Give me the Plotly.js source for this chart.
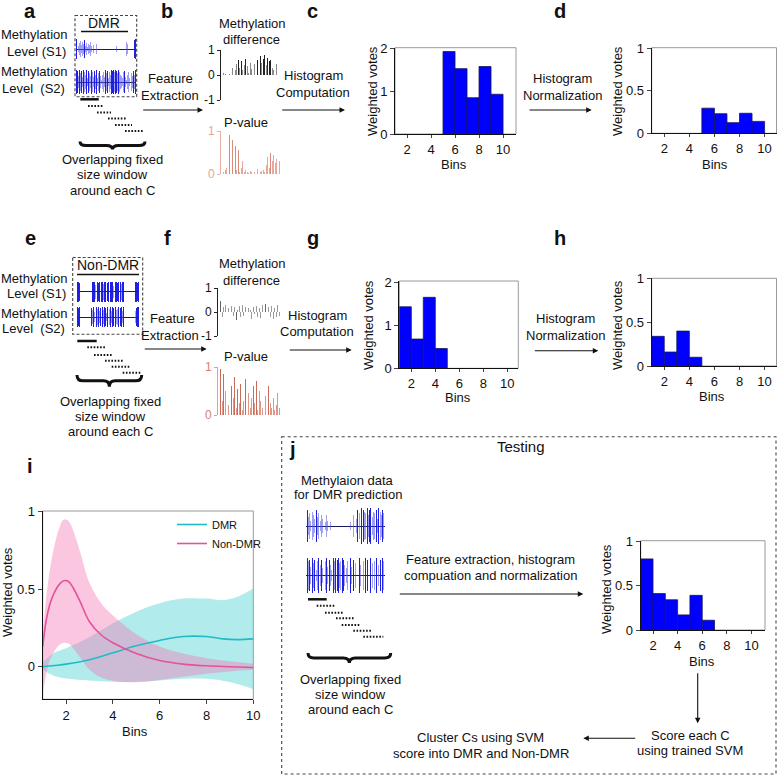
<!DOCTYPE html>
<html><head><meta charset="utf-8">
<script src="https://cdn.plot.ly/plotly-3.0.1.min.js"></script>
<style>html,body{margin:0;padding:0;background:#fff}</style>
</head><body><div id="chart" style="width:778px;height:776px"></div>
<script>
const W=778,H=776;
const FONT='Liberation Sans, Arial, Helvetica, sans-serif';

// ---------------- data ----------------
const BIN_CENTERS=[1.5,2.5,3.5,4.5,5.5,6.5,7.5,8.5,9.5];
const BIN_TICKS=[2,4,6,8,10];
const DMR_COUNTS=[0,0,0,0,1.93,1.53,0.85,1.58,0.93];
const DMR_NORM=[0,0,0,0,0.295,0.23,0.125,0.235,0.14];
const NONDMR_COUNTS=[1.43,0.68,1.65,0.46,0,0,0,0,0];
const NONDMR_NORM=[0.34,0.16,0.40,0.10,0,0,0,0,0];
const TEST_NORM=[0.80,0.41,0.34,0.17,0.39,0.11,0,0,0];

// methylation level tracks (amplitudes)
const DMR_S1=[1,0,0.3,0.6,0.8,0.4,0.7,0.5,0.9,0.3,0.6,0.2,0.5,0.4,0.7,0.3,0,0.4,0,0,0.5,0,0,0,0,0,0,0,0,0,0,0,0,0,0,0,0,0,0,0,0.3,0,0,0,0,0,0,0,0,0,0.7,0.5,0,0,0,0,0,0,0.9,1];
const DMR_S2=[1,0.9,0.5,1,0.7,0.9,0.4,1,0.8,0.6,1,0.3,0.9,0.7,0.5,1,0.8,0.4,0.9,0.6,1,0.3,0.7,0.9,0.5,0.2,0.6,0.8,0.4,1,0.7,0.9,0.3,0.8,0.6,1,0.9,1,0.8,1,0.9,0.7,1,0.8,0.6,0.5,0.3,0.8,0.9,0.4,0.2,0.6,0.8,0.3,0,0.7,0.5,0.9,0.6,1];
const NON_S1=[1,1,0.9,1,0,1,1,0.8,1,0,1,1,0.9,0,1,1,1,0.7,0,1,0.9,1,0,1,1,0.8,1,1,0,0.9,1,0,1,1,1,0.6,0,1,1,0.9,1,0,1,0.8,1,1,0,1,0.9,1,0,1,1,0.7,1,0,1,1,0.9,1];
const NON_S2=[1,0.9,1,0.8,1,0.7,1,0.9,0.6,1,0.8,0,1,0.9,0.7,1,0.5,0,1,0.8,1,0.6,0.9,0,1,0.7,1,0.9,0.4,1,0,0.8,1,0.6,1,0.9,0,1,0.7,0.8,1,0,0.9,1,0.6,1,0.8,0,1,0.9,0.7,1,0,0.8,1,1,0.6,0.9,1,1];
const TEST_S1=[0.9,0.5,0.7,0.3,0.8,0.6,0.4,0.9,0.5,0.7,0.3,0.6,0.4,0.5,0.2,0.6,0.3,0,0.2,0,0,0,0,0,0,0,0,0,0,0,0,0,0,0.2,0,0,0.6,0,0.4,0.9,0.7,0,1,0.9,0.8,0.7,1,0.6,0.9,1,0.5,0.8,0.7,0.9,0.4,1,0.8,0.6,0.9,0.7];
const TEST_S2=[1,0.8,0.9,0.5,1,0.7,0.9,0.3,0.8,1,0.6,0.9,0.4,0.7,0.8,1,0.5,0.9,0.6,0.3,1,0.8,1,0.9,1,0.7,0.8,1,0.9,0.6,0.4,0.8,0,1,0.5,0,0.9,0.7,0,0,1,0.6,0,0.8,0,1,0.9,0,0,1,0.7,0,0.8,1,0,0.6,0.9,0,1,0.8];

// features
const DMR_DIFF=[0.1,0.05,0,0.15,0.05,0,0.3,0.5,0.2,0.45,0.6,0.3,0.55,0.2,0.4,0.65,0.35,0.1,0.5,0.25,0.15,0.45,0.7,0.6,0.3,0.75,0.5,0.65,0.8,0.4,0.7,0.55,0.6,0.3,0.2,0,0.45,0,0,0.6];
const DMR_PVAL=[0.05,0.1,0.15,0.05,0.9,0.1,0.8,0.05,0.65,0.1,0.55,0.05,0.15,0.3,0.05,0.1,0.05,0.03,0.08,0.04,0.1,0.05,0.03,0.12,0.05,0.04,0.06,0.1,0.05,0.2,0.4,0.15,0.5,0.3,0.45,0.25,0.35,0.1,0.3,0.15];
const NON_DIFF=[0.45,-0.2,0.2,0.3,-0.25,0.15,-0.3,0.25,-0.15,0.2,-0.35,0.1,0.25,-0.2,0.3,-0.15,0.2,-0.25,0.15,0.1,-0.3,0.2,-0.1,0.25,-0.2,0.15,-0.25,0.3,-0.15,0.35,-0.7,0.2,-0.2,0.25,-0.3,0.15,-0.2,0.3,-0.15,0.2];
const NON_PVAL=[0.95,0.3,0.85,0.5,0.9,0.2,0.7,0.6,0.35,0.8,0.15,0.55,0.25,0.65,0.1,0.3,0.75,0.2,0.45,0.15,0.35,0.6,0.25,0.7,0.1,0.5,0.3,0.15,0.2,0.4,0.1,0.6,0.25,0.15,0.35,0.1,0.2,0.45,0.15,0.3];

// panel i curves
const DMR_X=[1,1.5,2,3,4,5,6,7,8,8.7,9.3,10];
const DMR_MEAN=[0,0.008,0.017,0.045,0.09,0.135,0.17,0.195,0.195,0.18,0.175,0.18];
const DMR_HI=[0.03,0.09,0.12,0.19,0.28,0.355,0.41,0.44,0.44,0.43,0.45,0.505];
const DMR_LO=[-0.02,-0.06,-0.075,-0.088,-0.097,-0.097,-0.088,-0.077,-0.077,-0.09,-0.11,-0.145];
const NON_X=[1,1.15,1.3,1.5,1.7,1.9,2.1,2.3,2.6,3,3.5,4,5,6,7,8,9,10];
const NON_MEAN=[0.13,0.3,0.4,0.48,0.53,0.555,0.55,0.51,0.42,0.29,0.205,0.155,0.085,0.04,0.017,0.006,0,-0.005];
const NON_HI=[0.2,0.45,0.62,0.78,0.89,0.95,0.94,0.88,0.74,0.54,0.41,0.33,0.21,0.13,0.085,0.055,0.035,0.02];
const NON_LO=[-0.17,-0.05,0.04,0.1,0.14,0.155,0.15,0.12,0.06,-0.02,-0.07,-0.09,-0.1,-0.085,-0.065,-0.045,-0.03,-0.02];

// ---------------- build ----------------
const traces=[];
const layout={width:W,height:H,margin:{l:0,r:0,t:0,b:0},paper_bgcolor:'#fff',plot_bgcolor:'rgba(0,0,0,0)',
  font:{family:FONT,size:13,color:'#111'},showlegend:true,bargap:0,shapes:[],annotations:[],
  legend:{x:172/W,y:1-510/H,xanchor:'left',yanchor:'top',bgcolor:'rgba(0,0,0,0)',font:{size:11,color:'#111'},tracegroupgap:0,traceorder:'normal'}};
const X=p=>p/W, Y=p=>1-p/H;
let n=0;
function axes(x0,x1,y0,y1,xo,yo){n++;const s=n===1?'':String(n);
  layout['xaxis'+s]=Object.assign({domain:[X(x0),X(x1)],anchor:'y'+s,fixedrange:true},xo);
  layout['yaxis'+s]=Object.assign({domain:[Y(y1),Y(y0)],anchor:'x'+s,fixedrange:true},yo);
  return {x:'x'+s,y:'y'+s};}
const HID={showgrid:false,zeroline:false,showticklabels:false,ticks:'',showline:false};

function track(vals,x0,x1,y0,y1){
  const a=axes(x0,x1,y0,y1,Object.assign({},HID,{range:[-0.8,vals.length-0.2]}),
    Object.assign({},HID,{range:[-1.05,1.05],zeroline:true,zerolinecolor:'#1a1a60',zerolinewidth:1}));
  traces.push({type:'bar',x:vals.map((v,i)=>i),y:vals.map(v=>2*v),base:vals.map(v=>-v),width:0.75,
    marker:{color:vals.map(v=>v>=0.85?'rgba(20,20,225,0.95)':'rgba(80,80,235,0.55)'),line:{width:0}},
    xaxis:a.x,yaxis:a.y,showlegend:false,hoverinfo:'skip'});
}
function mini(vals,x0,x1,y0,y1,yr,tv,lineCol,tickCol,colFn){
  const a=axes(x0,x1,y0,y1,Object.assign({},HID,{range:[-1.8,vals.length-0.3]}),
    {range:yr,tickvals:tv,ticktext:tv.map(String),ticks:'outside',ticklen:3,tickcolor:lineCol,showline:true,
     linecolor:lineCol,linewidth:1,showgrid:false,zeroline:false,tickfont:{size:12,color:tickCol}});
  traces.push({type:'bar',x:vals.map((v,i)=>i),y:vals,width:0.55,marker:{color:vals.map(colFn),line:{width:0}},
    xaxis:a.x,yaxis:a.y,showlegend:false,hoverinfo:'skip'});
}
function frame(a){layout.shapes.push({type:'rect',xref:a.x+' domain',yref:a.y+' domain',x0:0,x1:1,y0:0,y1:1,line:{color:'#9a9a9a',width:1},layer:'below'});}
function hist(vals,x0,x1,y0,y1,yr,ytv,ytt,xr){
  const a=axes(x0,x1,y0,y1,
    {range:xr,tickvals:BIN_TICKS,ticks:'outside',ticklen:3,showline:true,linecolor:'#111',showgrid:false,zeroline:false,tickfont:{size:13}},
    {range:yr,tickvals:ytv,ticktext:ytt,ticks:'outside',ticklen:4,showline:true,linecolor:'#111',showgrid:false,zeroline:false,tickfont:{size:13}});
  traces.push({type:'bar',x:BIN_CENTERS,y:vals.map(v=>v===0?null:v),width:1,marker:{color:'#0000ff',line:{color:'#16165a',width:0.8}},
    xaxis:a.x,yaxis:a.y,showlegend:false,hoverinfo:'skip'});
  frame(a);
}
function txt(x,y,t,o){o=o||{};layout.annotations.push({xref:'paper',yref:'paper',x:X(x),y:Y(y),text:t,showarrow:false,
  xanchor:o.xa||'center',yanchor:'middle',textangle:o.ang||0,font:{family:FONT,size:o.size||13,color:o.color||'#111'}});}
function arrow(x0,y0,x1,y1){layout.annotations.push({xref:'paper',yref:'paper',x:X(x1),y:Y(y1),ax:x0-x1,ay:y0-y1,
  text:'',showarrow:true,arrowhead:2,arrowsize:1,arrowwidth:1.1,arrowcolor:'#111',standoff:0});}
function line(x0,y0,x1,y1,w,dash,col){layout.shapes.push({type:'line',xref:'paper',yref:'paper',x0:X(x0),y0:Y(y0),x1:X(x1),y1:Y(y1),
  line:{color:col||'#111',width:w||1,dash:dash||'solid'}});}
function rect(x0,y0,x1,y1,dash){layout.shapes.push({type:'rect',xref:'paper',yref:'paper',x0:X(x0),y0:Y(y0),x1:X(x1),y1:Y(y1),
  line:{color:'#444',width:1.1,dash:dash}});}
function brace(x1,x2,yt,yb){const ym=(yt+yb)/2,xc=(x1+x2)/2,r=6;
  const P=(a,b)=>X(a)+','+Y(b);
  layout.shapes.push({type:'path',xref:'paper',yref:'paper',line:{color:'#111',width:3},
   path:'M'+P(x1,yt)+' Q'+P(x1,ym)+' '+P(x1+r,ym)+' L'+P(xc-r,ym)+' Q'+P(xc,ym)+' '+P(xc,yb)+' Q'+P(xc,ym)+' '+P(xc+r,ym)+' L'+P(x2-r,ym)+' Q'+P(x2,ym)+' '+P(x2,yt)});}
function windows(solid,dots){line(solid[0],solid[2],solid[1],solid[2],2.5);dots.forEach(d=>line(d[0],d[2],d[1],d[2],2,'1.6px,1.6px'));}

// panel labels
[['a',30,11],['b',167,11],['c',312,11],['d',560,11],['e',30,238],['f',167,238],['g',313,238],['h',560,238],['i',30,466],['j',292,449]]
 .forEach(l=>txt(l[1],l[2],'<b>'+l[0]+'</b>',{size:20}));

// ---- panel a ----
rect(75,15.5,136.7,96.7,'3px,2px');
txt(104,22.5,'DMR',{size:14}); line(81,31.5,128,31.5,1.3);
track(DMR_S1,76,136,38,60); track(DMR_S2,76,136,69,95);
txt(34,35,'Methylation'); txt(36,51.7,'Level (S1)'); txt(34,71.7,'Methylation'); txt(33,88.3,'Level  (S2)');
windows([80.3,98.7,99.3],[[88,103,106],[97,111,112.5],[108,127,118.5],[115,132,125],[125,143,131]]);
brace(80,145,141.5,149.5);
txt(112,160,'Overlapping fixed'); txt(112,175,'size window'); txt(112,190,'around each C');
txt(170,79,'Feature'); txt(170,95,'Extraction'); arrow(141.7,110,203,110);

// ---- panel b ----
txt(252,23,'Methylation'); txt(252,39,'difference');
mini(DMR_DIFF,221,282,50,100,[-1,1],[-1,0,1],'#222','#111',v=>v>0.5?'#222':'#8a8a8a');
txt(246,122,'P-value');
mini(DMR_PVAL,221,282,131,174,[0,1],[0,1],'#eab0a2','#e6a595',v=>v>0.45?'rgba(215,120,100,0.85)':'rgba(225,130,110,0.7)');
txt(313,76,'Histogram'); txt(313,92,'Computation'); arrow(280.7,110,345,110);

// ---- panel c / d ----
hist(DMR_COUNTS,395,516,47.7,134,[0,2.02],[0,1,2],['0','1','2'],[1,11.08]);
txt(372,91,'Weighted votes',{ang:-90}); txt(454,164,'Bins');
txt(562,79,'Histogram'); txt(562,95.7,'Normalization'); arrow(528,110,591.7,110);
hist(DMR_NORM,651.7,776.5,47.7,133.3,[0,1.005],[0,0.5,1],['0','0.5','1'],[1,10.95]);
txt(617,91,'Weighted votes',{ang:-90}); txt(715,164,'Bins');

// ---- panel e ----
rect(72.7,257.5,142.7,334.3,'3px,2px');
txt(108,265,'Non-DMR',{size:14}); line(77,274.5,139,274.5,1.3);
track(NON_S1,77,139,281,302); track(NON_S2,77,139,306,328);
txt(34,278.3,'Methylation'); txt(36,293.3,'Level (S1)'); txt(34,313.3,'Methylation'); txt(33,328.3,'Level  (S2)');
windows([77.3,96.7,341],[[87.3,105,347.3],[94,111.7,355],[105,123.3,360.7],[111.7,130,366.7],[122.7,141.7,372.7]]);
brace(77,141.7,375,386.7);
txt(110,401.7,'Overlapping fixed'); txt(110,416.7,'size window'); txt(110,431.7,'around each C');
txt(172,318.3,'Feature'); txt(170,335,'Extraction'); arrow(143.3,349,206.7,349);

// ---- panel f ----
txt(252,263,'Methylation'); txt(252,280,'difference');
mini(NON_DIFF,218,282,288,336,[-1,1],[-1,0,1],'#222','#111',v=>Math.abs(v)>0.3?'#666':'#9a9a9a');
txt(246,357,'P-value');
mini(NON_PVAL,218,282,367,415,[0,1],[0,1],'#e0a090','#d8806a',v=>v>0.5?'rgba(195,80,60,0.85)':'rgba(215,115,95,0.75)');
txt(317,315,'Histogram'); txt(317,331.7,'Computation'); arrow(288.3,350,351.7,350);

// ---- panel g / h ----
hist(NONDMR_COUNTS,399.3,518.3,281,368.3,[0,2.03],[0,1,2],['0','1','2'],[1,10.92]);
txt(368,325,'Weighted votes',{ang:-90}); txt(458,398,'Bins');
txt(565,318.3,'Histogram'); txt(565,335,'Normalization'); arrow(533.3,350.7,598.3,350.7);
hist(NONDMR_NORM,651.7,776.5,278.3,366,[0,1.005],[0,0.5,1],['0','0.5','1'],[1,10.95]);
txt(617,325,'Weighted votes',{ang:-90}); txt(712,397,'Bins');

// ---- panel i ----
(function(){
  const a=axes(42.7,253.3,511,699.3,
    {range:[1,10],tickvals:BIN_TICKS,ticks:'outside',ticklen:4,showline:true,linecolor:'#111',showgrid:false,zeroline:false,tickfont:{size:13}},
    {range:[-0.21,1.005],tickvals:[0,0.5,1],ticktext:['0','0.5','1'],ticks:'outside',ticklen:4,showline:true,linecolor:'#111',showgrid:false,zeroline:false,tickfont:{size:13}});
  frame(a);
  const base={xaxis:a.x,yaxis:a.y,hoverinfo:'skip',mode:'lines',type:'scatter'};
  traces.push(Object.assign({},base,{x:DMR_X,y:DMR_LO,line:{width:0,shape:'spline'},showlegend:false}));
  traces.push(Object.assign({},base,{x:DMR_X,y:DMR_HI,line:{width:0,shape:'spline'},fill:'tonexty',fillcolor:'rgba(60,205,205,0.40)',showlegend:false}));
  traces.push(Object.assign({},base,{x:NON_X,y:NON_LO,line:{width:0,shape:'spline'},showlegend:false}));
  traces.push(Object.assign({},base,{x:NON_X,y:NON_HI,line:{width:0,shape:'spline'},fill:'tonexty',fillcolor:'rgba(242,120,180,0.42)',showlegend:false}));
  traces.push(Object.assign({},base,{x:DMR_X,y:DMR_MEAN,name:'DMR',line:{color:'#1fbcc6',width:1.6,shape:'spline'}}));
  traces.push(Object.assign({},base,{x:NON_X,y:NON_MEAN,name:'Non-DMR',line:{color:'#e4529c',width:1.6,shape:'spline'}}));
  txt(7,592,'Weighted votes',{ang:-90}); txt(135,731,'Bins');
})();

// ---- panel j ----
rect(281.7,436.7,776,774,'dot');
txt(521,447,'Testing',{size:15});
txt(347,480,'Methylaion data'); txt(348,495,'for DMR prediction');
track(TEST_S1,306,385,507,545); track(TEST_S2,306,385,557,594);
windows([308,326.7,599.3],[[316.7,335,605.7],[325,343.3,612.7],[336,355,618.3],[341.7,360,625],[353.3,371.7,630.7],[363.3,383.3,636.7]]);
brace(308,390.7,653,663);
txt(350,679,'Overlapping fixed'); txt(350,694,'size window'); txt(350,709,'around each C');
txt(490,559,'Feature extraction, histogram'); txt(490,575,'compuation and normalization');
arrow(398.3,594,583.3,594);
hist(TEST_NORM,640.7,765,540.7,630,[0,1.005],[0,0.5,1],['0','0.5','1'],[1,11.1]);
txt(606,589,'Weighted votes',{ang:-90}); txt(702,661,'Bins');
arrow(697.7,671.7,697.7,723.3);
txt(690,735,'Score each C'); txt(690,750,'using trained SVM');
arrow(636.7,738.3,583.3,738.3);
txt(481,737,'Cluster Cs using SVM'); txt(481,753,'score into DMR and Non-DMR');

Plotly.newPlot('chart',traces,layout,{staticPlot:true,displayModeBar:false});
</script></body></html>
